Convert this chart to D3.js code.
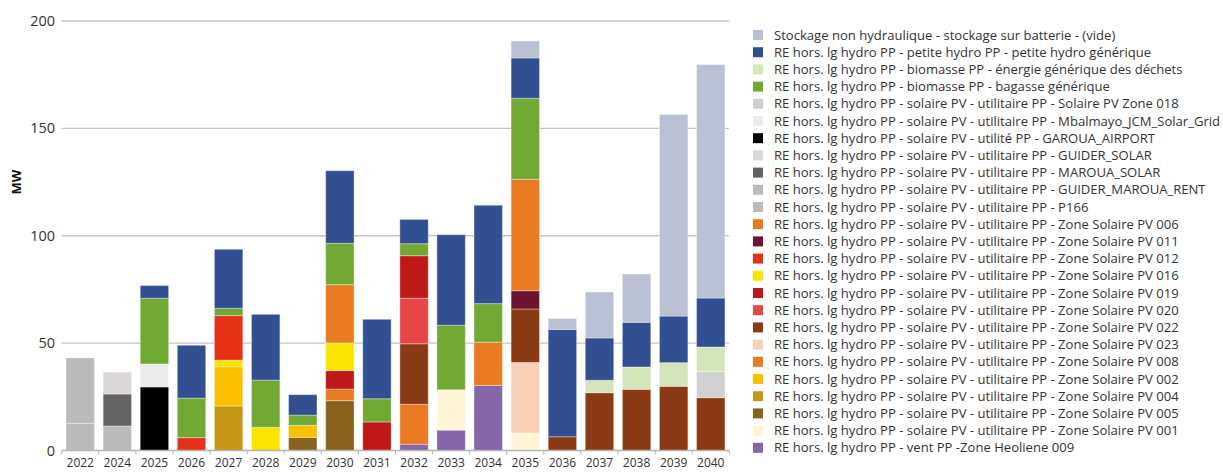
<!DOCTYPE html>
<html><head><meta charset="utf-8">
<script src="https://cdn.jsdelivr.net/npm/d3@7"></script>
<style>body{margin:0;background:#fff}svg{display:block}</style>
</head><body>
<script>
const years = ["2022","2024","2025","2026","2027","2028","2029","2030","2031","2032","2033","2034","2035","2036","2037","2038","2039","2040"];
// Series in legend order (top of legend = top of stack)
const seriesNames = [
 "Stockage non hydraulique - stockage sur batterie - (vide)",
 "RE hors. lg hydro PP - petite hydro PP - petite hydro générique",
 "RE hors. lg hydro PP - biomasse PP - énergie générique des déchets",
 "RE hors. lg hydro PP - biomasse PP - bagasse générique",
 "RE hors. lg hydro PP - solaire PV - utilitaire PP - Solaire PV Zone 018",
 "RE hors. lg hydro PP - solaire PV - utilitaire PP - Mbalmayo_JCM_Solar_Grid",
 "RE hors. lg hydro PP - solaire PV - utilité PP - GAROUA_AIRPORT",
 "RE hors. lg hydro PP - solaire PV - utilitaire PP - GUIDER_SOLAR",
 "RE hors. lg hydro PP - solaire PV - utilitaire PP - MAROUA_SOLAR",
 "RE hors. lg hydro PP - solaire PV - utilitaire PP - GUIDER_MAROUA_RENT",
 "RE hors. lg hydro PP - solaire PV - utilitaire PP - P166",
 "RE hors. lg hydro PP - solaire PV - utilitaire PP - Zone Solaire PV 006",
 "RE hors. lg hydro PP - solaire PV - utilitaire PP - Zone Solaire PV 011",
 "RE hors. lg hydro PP - solaire PV - utilitaire PP - Zone Solaire PV 012",
 "RE hors. lg hydro PP - solaire PV - utilitaire PP - Zone Solaire PV 016",
 "RE hors. lg hydro PP - solaire PV - utilitaire PP - Zone Solaire PV 019",
 "RE hors. lg hydro PP - solaire PV - utilitaire PP - Zone Solaire PV 020",
 "RE hors. lg hydro PP - solaire PV - utilitaire PP - Zone Solaire PV 022",
 "RE hors. lg hydro PP - solaire PV - utilitaire PP - Zone Solaire PV 023",
 "RE hors. lg hydro PP - solaire PV - utilitaire PP - Zone Solaire PV 008",
 "RE hors. lg hydro PP - solaire PV - utilitaire PP - Zone Solaire PV 002",
 "RE hors. lg hydro PP - solaire PV - utilitaire PP - Zone Solaire PV 004",
 "RE hors. lg hydro PP - solaire PV - utilitaire PP - Zone Solaire PV 005",
 "RE hors. lg hydro PP - solaire PV - utilitaire PP - Zone Solaire PV 001",
 "RE hors. lg hydro PP - vent PP -Zone Heoliene 009"
];
const seriesColors = ["#bac1d4","#325091","#d3e5b9","#72a934","#d0d0d0","#ebebeb","#000000","#dbd7d6","#646464","#bbbbbb","#bbbbbb","#e97a22","#6e1331","#e43117","#f9e500","#be1819","#e84649","#8b3a16","#f8d1b6","#e97a22","#fbc000","#c59616","#87631d","#fef4d6","#8466a9"];

// values per year, same order as seriesNames
//                 2022 2024 2025 2026 2027 2028 2029 2030 2031 2032 2033 2034 2035 2036 2037 2038 2039 2040
const stockage   = [0,   0,   0,   0,   0,   0,   0,   0,   0,   0,   0,   0,   7.9, 5.1, 21.4,22.5,93.9,108.7];
const petiteHydro= [0,   0,   5.9, 24.6,27.5,30.6,9.5, 33.8,37.0,11.3,42.1,45.8,18.8,50.0,19.7,20.8,21.7,22.8];
const dechets    = [0,   0,   0,   0,   0,   0,   0,   0,   0,   0,   0,   0,   0,   0,   5.8, 10.4,11.0,11.5];
const bagasse    = [0,   0,   30.6,18.4,3.4, 22.0,4.8, 19.3,10.8,5.6, 30.1,18.0,37.7,0,   0,   0,   0,   0];
const zone018    = [0,   0,   0,   0,   0,   0,   0,   0,   0,   0,   0,   0,   0,   0,   0,   0,   0,   12.1];
const mbalmayo   = [0,   0,   10.7,0,   0,   0,   0,   0,   0,   0,   0,   0,   0,   0,   0,   0,   0,   0];
const garoua     = [0,   0,   29.6,0,   0,   0,   0,   0,   0,   0,   0,   0,   0,   0,   0,   0,   0,   0];
const guider     = [0,   10.2,0,   0,   0,   0,   0,   0,   0,   0,   0,   0,   0,   0,   0,   0,   0,   0];
const maroua     = [0,   14.9,0,   0,   0,   0,   0,   0,   0,   0,   0,   0,   0,   0,   0,   0,   0,   0];
const guiderMarouaRent = [30.4,0,0,  0,   0,   0,   0,   0,   0,   0,   0,   0,   0,   0,   0,   0,   0,   0];
const p166       = [12.7,11.4,0,   0,   0,   0,   0,   0,   0,   0,   0,   0,   0,   0,   0,   0,   0,   0];
const z006       = [0,   0,   0,   0,   0,   0,   0,   27.1,0,   0,   0,   0,   51.9,0,   0,   0,   0,   0];
const z011       = [0,   0,   0,   0,   0,   0,   0,   0,   0,   0,   0,   0,   8.5, 0,   0,   0,   0,   0];
const z012       = [0,   0,   0,   6.0, 20.7,0,   0,   0,   0,   0,   0,   0,   0,   0,   0,   0,   0,   0];
const z016       = [0,   0,   0,   0,   3.1, 10.8,0,   12.9,0,   0,   0,   0,   0,   0,   0,   0,   0,   0];
const z019       = [0,   0,   0,   0,   0,   0,   0,   8.6, 13.3,19.8,0,   0,   0,   0,   0,   0,   0,   0];
const z020       = [0,   0,   0,   0,   0,   0,   0,   0,   0,   21.2,0,   0,   0,   0,   0,   0,   0,   0];
const z022       = [0,   0,   0,   0,   0,   0,   0,   0,   0,   28.2,0,   0,   24.9,6.4, 26.9,28.5,29.9,24.6];
const z023       = [0,   0,   0,   0,   0,   0,   0,   0,   0,   0,   0,   0,   32.9,0,   0,   0,   0,   0];
const z008       = [0,   0,   0,   0,   0,   0,   0,   5.4, 0,   18.6,0,   20.1,0,   0,   0,   0,   0,   0];
const z002       = [0,   0,   0,   0,   18.3,0,   5.6, 0,   0,   0,   0,   0,   0,   0,   0,   0,   0,   0];
const z004       = [0,   0,   0,   0,   20.7,0,   0,   0,   0,   0,   0,   0,   0,   0,   0,   0,   0,   0];
const z005       = [0,   0,   0,   0,   0,   0,   6.1, 23.2,0,   0,   0,   0,   0,   0,   0,   0,   0,   0];
const z001       = [0,   0,   0,   0,   0,   0,   0,   0,   0,   0,   18.8,0,   8.1, 0,   0,   0,   0,   0];
const vent009    = [0,   0,   0,   0,   0,   0,   0,   0,   0,   2.9, 9.5, 30.3,0,   0,   0,   0,   0,   0];
const yTicks = [0, 50, 100, 150, 200];

const seriesValues = [stockage, petiteHydro, dechets, bagasse, zone018, mbalmayo, garoua, guider, maroua, guiderMarouaRent, p166, z006, z011, z012, z016, z019, z020, z022, z023, z008, z002, z004, z005, z001, vent009];

const W = 1223, H = 473;
const svg = d3.select("body").append("svg").attr("width", W).attr("height", H);
const font = "'Open Sans', 'DejaVu Sans', sans-serif";

const x = d3.scaleBand().domain(years).range([61.7, 729.3]).paddingInner(0.234).paddingOuter(0.117);
const y = d3.scaleLinear().domain([0, 200]).range([450.5, 21]);

// gridlines
svg.append("g").selectAll("line").data(yTicks.filter(t => t > 0)).join("line")
  .attr("x1", 61.7).attr("x2", 729.3)
  .attr("y1", d => y(d)).attr("y2", d => y(d))
  .attr("stroke", "#c4c4c4").attr("stroke-width", 1.3);

// stacked data: bottom of stack = last in legend
const keys = seriesNames.map((n, i) => i);
const table = years.map((yr, j) => {
  const o = { year: yr };
  keys.forEach(k => o[k] = seriesValues[k][j]);
  return o;
});
const stack = d3.stack().keys(keys.slice().reverse());
const layers = stack(table);

svg.append("g").selectAll("g").data(layers).join("g")
  .attr("fill", d => seriesColors[d.key])
  .selectAll("rect").data(d => d.filter(p => p[1] - p[0] > 0)).join("rect")
  .attr("x", d => x(d.data.year))
  .attr("width", x.bandwidth())
  .attr("y", d => y(d[1]))
  .attr("height", d => y(d[0]) - y(d[1]))
  .attr("stroke", "rgba(255,255,255,0.35)")
  .attr("stroke-width", 1);

// x axis
const xAxis = svg.append("g").attr("transform", `translate(0,${y(0)})`);
xAxis.append("line").attr("x1", 61.7).attr("x2", 729.3).attr("stroke", "#b5b5b5").attr("stroke-width", 1.3);
const edges = years.map(yr => x(yr) - x.step() * x.paddingInner() / 2).concat([729.3]);
xAxis.selectAll("line.tk").data(edges).join("line").attr("class", "tk")
  .attr("x1", d => d).attr("x2", d => d).attr("y1", 0).attr("y2", 4)
  .attr("stroke", "#b5b5b5").attr("stroke-width", 1);
xAxis.selectAll("text").data(years).join("text")
  .attr("x", d => x(d) + x.bandwidth() / 2).attr("y", 16.5)
  .attr("text-anchor", "middle").attr("font-family", font).attr("font-size", 12)
  .attr("fill", "#333").text(d => d);

// y axis labels
svg.append("g").selectAll("text").data(yTicks).join("text")
  .attr("x", 55).attr("y", d => y(d) + 5)
  .attr("text-anchor", "end").attr("font-family", font).attr("font-size", 14.5)
  .attr("fill", "#333").text(d => d);

svg.append("text").attr("transform", "translate(21,182) rotate(-90)")
  .attr("text-anchor", "middle").attr("font-family", font).attr("font-weight", "bold")
  .attr("font-size", 13).attr("fill", "#111").text("MW");

// legend
const leg = svg.append("g");
const rows = leg.selectAll("g").data(seriesNames).join("g")
  .attr("transform", (d, i) => `translate(753,${35 + i * 17.2})`);
rows.append("rect").attr("x", 0).attr("y", -5).attr("width", 10).attr("height", 10)
  .attr("fill", (d, i) => seriesColors[i]);
const texts = rows.append("text").attr("x", 21).attr("y", 4.5)
  .attr("font-family", font).attr("font-size", 12).attr("fill", "#333").text(d => d);
// scale legend font so the reference-width line fits
const ref = texts.filter((d, i) => i === 11).node();
const w = ref.getComputedTextLength();
const fs = 12 * 405 / w;
texts.attr("font-size", fs);
</script>
</body></html>
